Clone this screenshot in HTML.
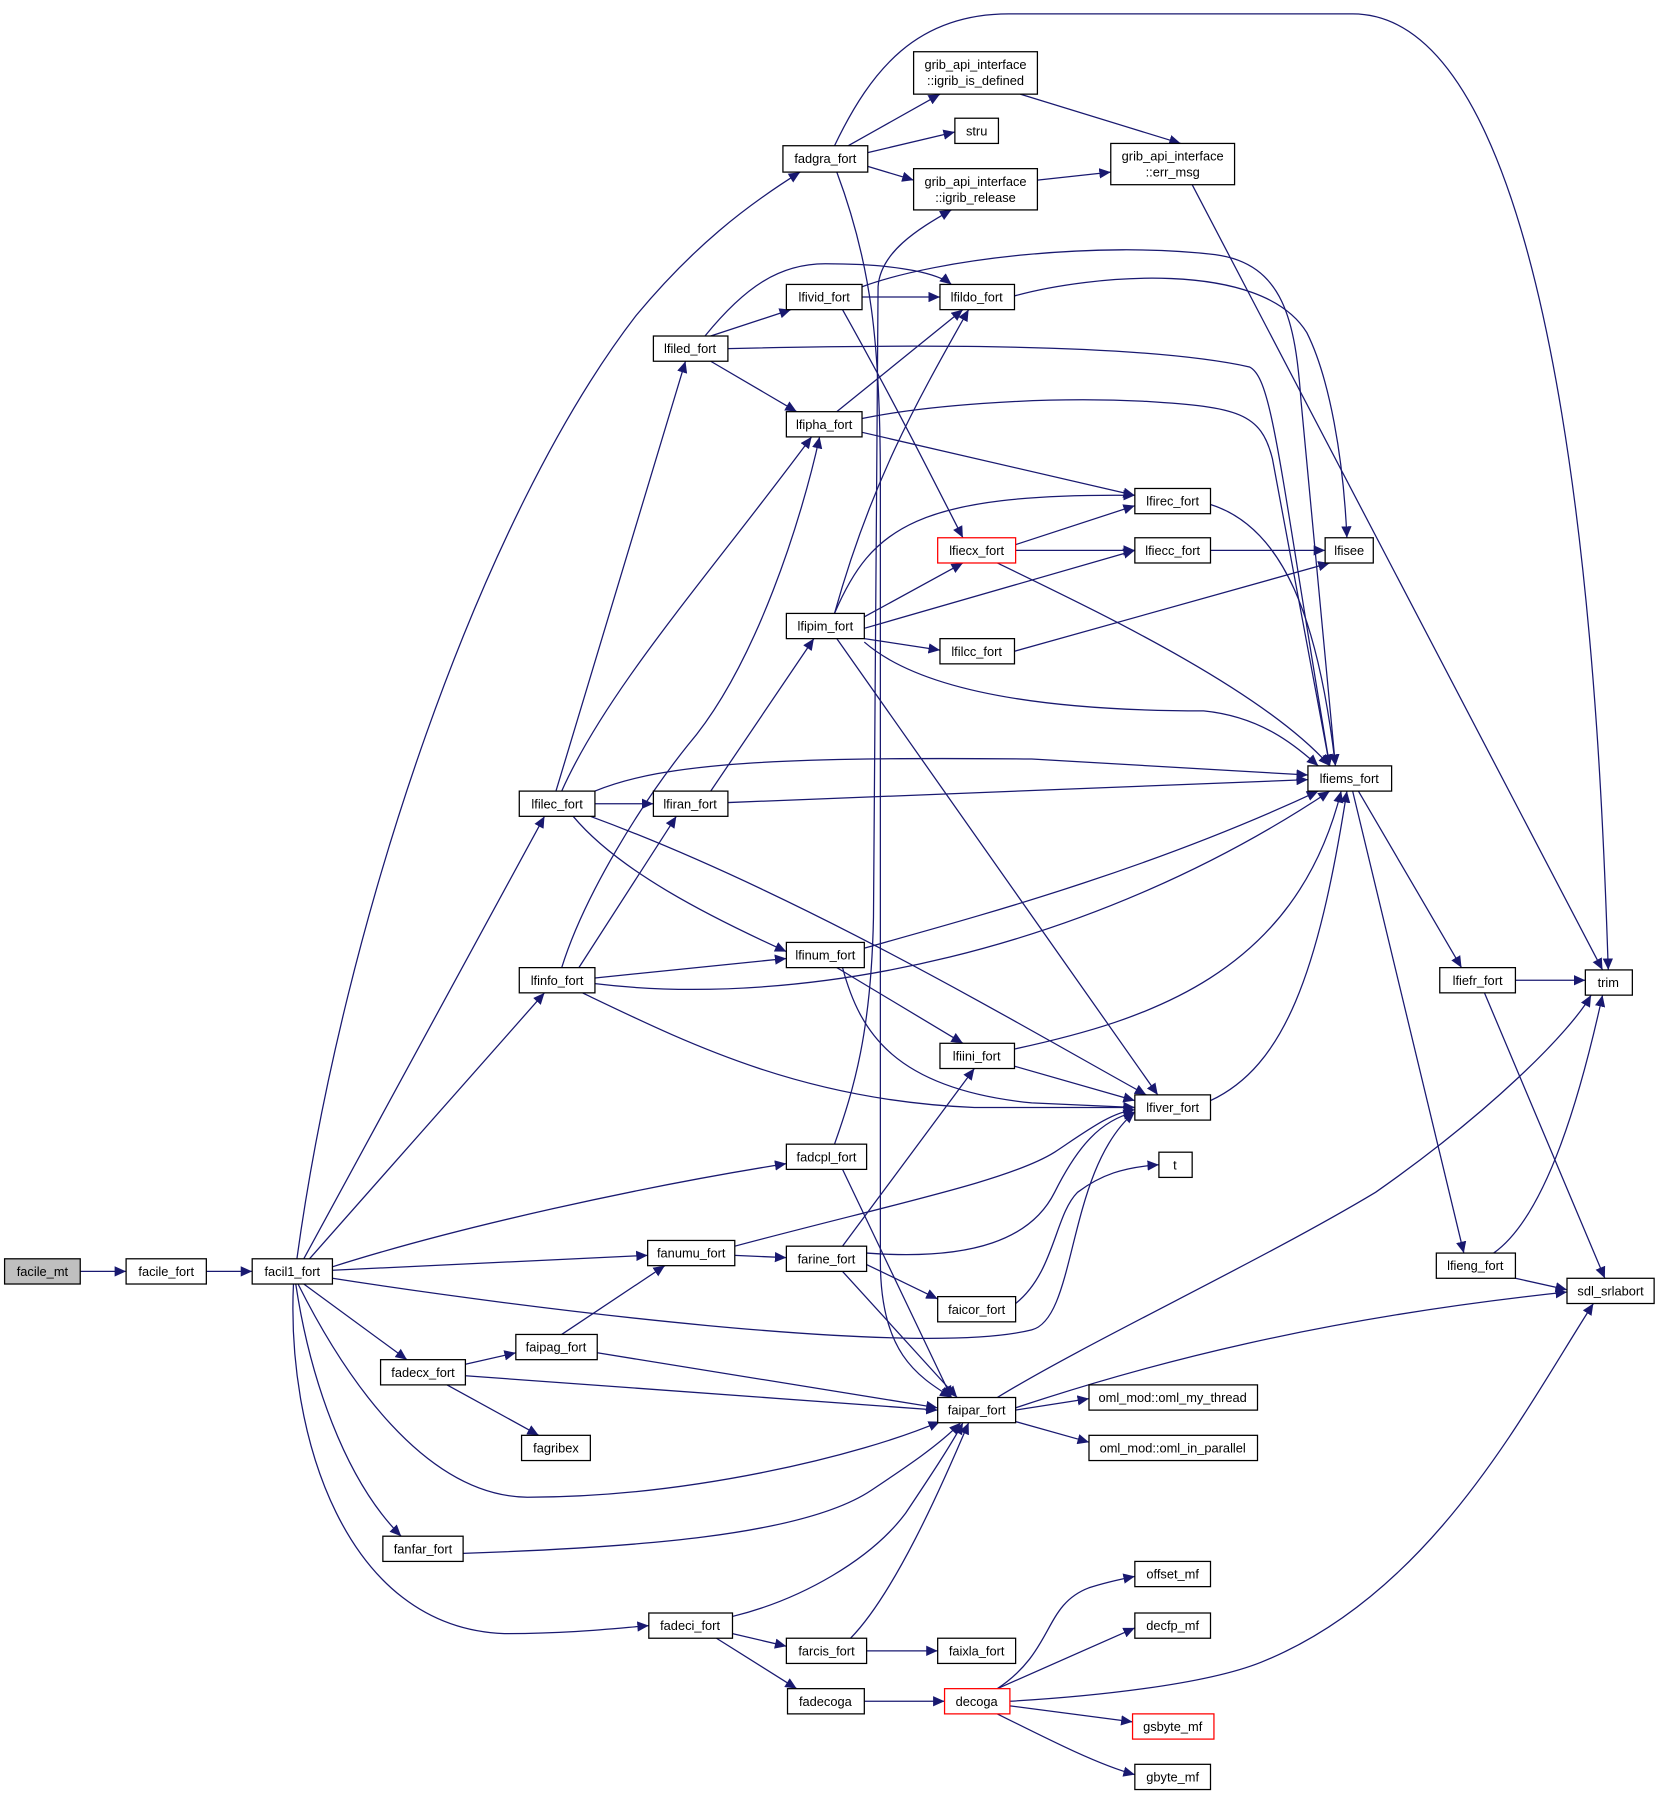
<!DOCTYPE html>
<html><head><meta charset="utf-8"><style>
html,body{margin:0;padding:0;background:#fff}
svg{display:block}
text{font-family:"Liberation Sans",Arial,sans-serif;font-size:11.2px;fill:#000}
.n rect{fill:#fff;stroke:#000;stroke-width:1.1}
.e path{fill:none;stroke:#191970;stroke-width:1.1}
</style></head><body>
<svg width="1661" height="1800" viewBox="0 0 1449 1570" xmlns="http://www.w3.org/2000/svg">
<defs><marker id="a" markerUnits="userSpaceOnUse" markerWidth="11" markerHeight="9" refX="10" refY="4.5" orient="auto"><path d="M0,0 L10,4.5 L0,9 z" fill="#191970"/></marker></defs>
<g class="e" marker-end="url(#a)">
<path d="M70,1109 L110,1109"/>
<path d="M180,1109 L220,1109"/>
<path d="M259,1098 C300,800 420,450 555,275 C605,215 650,180 698,150"/>
<path d="M265,1098 L475,712"/>
<path d="M270,1098 L475,866"/>
<path d="M290,1105 C400,1070 560,1035 686,1015"/>
<path d="M290,1108 L565,1095"/>
<path d="M290,1115 C450,1140 800,1185 900,1160 C940,1150 930,1020 990,970"/>
<path d="M265,1120 L355,1186"/>
<path d="M260,1120 C300,1200 370,1305 460,1306 C600,1306 750,1270 820,1240"/>
<path d="M258,1120 C270,1200 300,1290 350,1340"/>
<path d="M256,1120 C250,1250 300,1420 440,1425 C500,1425 540,1420 566,1418"/>
<path d="M740,127 L820,82"/>
<path d="M757,133 L833,115"/>
<path d="M757,145 L797,157"/>
<path d="M728,127 C760,60 800,12 880,12 L1180,12 C1380,12 1398,700 1403,846"/>
<path d="M730,150 C760,230 768,300 768,420 L768,1100 C768,1180 800,1200 830,1219"/>
<path d="M890,82 L1030,125"/>
<path d="M905,157 L969,150"/>
<path d="M1040,161 L1398,846"/>
<path d="M728,998 C745,950 760,900 762,800 L766,250 C768,220 800,200 830,183"/>
<path d="M735,1020 L830,1219"/>
<path d="M752,259 L820,259"/>
<path d="M735,270 C780,350 820,430 840,469"/>
<path d="M752,250 C820,225 960,210 1060,222 C1120,230 1130,280 1135,350 L1165,668"/>
<path d="M615,293 C650,250 680,230 720,230 C790,230 820,240 830,248"/>
<path d="M620,293 L690,270"/>
<path d="M620,315 L695,359"/>
<path d="M635,304 C800,300 1000,300 1090,320 C1110,330 1115,400 1160,668"/>
<path d="M885,258 C950,240 1100,225 1140,290 C1160,330 1172,400 1175,469"/>
<path d="M730,359 L840,270"/>
<path d="M752,377 L990,432"/>
<path d="M752,365 C800,355 900,345 1000,350 C1080,355 1100,360 1110,400 L1160,668"/>
<path d="M1056,440 C1120,460 1150,540 1165,668"/>
<path d="M886,475 L990,441"/>
<path d="M886,480 L990,480"/>
<path d="M870,491 C950,530 1100,600 1160,668"/>
<path d="M1056,480 L1156,480"/>
<path d="M728,535 C760,420 800,350 845,270"/>
<path d="M728,535 C760,460 800,430 990,432"/>
<path d="M754,538 L840,491"/>
<path d="M754,548 L990,480"/>
<path d="M754,557 L820,567"/>
<path d="M754,560 C800,600 900,620 1050,620 C1100,625 1130,650 1150,668"/>
<path d="M730,557 L1010,955"/>
<path d="M885,568 L1160,491"/>
<path d="M485,690 L598,315"/>
<path d="M490,690 C530,600 620,500 708,381"/>
<path d="M519,701 L570,701"/>
<path d="M519,690 C580,665 680,660 900,662 L1141,676"/>
<path d="M500,712 C540,760 620,800 686,830"/>
<path d="M515,712 C700,780 900,900 1000,955"/>
<path d="M620,690 L710,557"/>
<path d="M635,700 L1141,680"/>
<path d="M754,827 C850,800 1000,760 1150,690"/>
<path d="M730,844 L840,910"/>
<path d="M735,844 C750,900 780,950 900,962 L990,966"/>
<path d="M490,844 C510,780 560,700 600,650 C660,580 700,450 715,381"/>
<path d="M505,844 L590,712"/>
<path d="M519,853 L686,836"/>
<path d="M519,858 C700,880 950,830 1160,690"/>
<path d="M508,866 C600,910 700,960 850,966 L990,966"/>
<path d="M885,915 C1000,890 1130,850 1170,690"/>
<path d="M885,930 L990,960"/>
<path d="M1056,960 C1120,930 1150,850 1175,690"/>
<path d="M1185,690 L1275,844"/>
<path d="M1180,690 L1277,1093"/>
<path d="M1322,855 L1383,855"/>
<path d="M1295,866 L1400,1115"/>
<path d="M1303,1093 C1350,1060 1380,950 1398,868"/>
<path d="M1322,1115 L1367,1125"/>
<path d="M641,1087 C780,1050 880,1030 920,1005 C950,985 970,970 990,968"/>
<path d="M641,1095 L686,1097"/>
<path d="M735,1087 L850,932"/>
<path d="M756,1093 C850,1100 900,1080 920,1040 C940,1000 960,977 990,970"/>
<path d="M756,1103 L818,1133"/>
<path d="M735,1109 L835,1219"/>
<path d="M886,1137 C920,1110 920,1060 940,1040 C960,1025 980,1018 1011,1016"/>
<path d="M490,1164 L580,1104"/>
<path d="M521,1180 L818,1228"/>
<path d="M406,1190 L450,1180"/>
<path d="M406,1200 L818,1230"/>
<path d="M390,1208 L470,1252"/>
<path d="M404,1355 C550,1350 700,1340 760,1300 C790,1280 820,1260 838,1241"/>
<path d="M639,1410 C700,1395 760,1360 790,1320 C810,1290 830,1260 840,1241"/>
<path d="M639,1425 L686,1436"/>
<path d="M625,1429 L695,1473"/>
<path d="M742,1429 C780,1390 820,1300 845,1241"/>
<path d="M756,1440 L818,1440"/>
<path d="M754,1484 L824,1484"/>
<path d="M870,1473 C920,1440 910,1400 950,1385 C965,1380 980,1377 990,1375"/>
<path d="M870,1473 L990,1420"/>
<path d="M881,1488 L988,1502"/>
<path d="M870,1495 C920,1520 960,1540 990,1548"/>
<path d="M881,1484 C950,1480 1050,1470 1100,1450 C1250,1390 1330,1230 1390,1137"/>
<path d="M870,1219 C950,1170 1100,1100 1200,1040 C1300,970 1370,900 1388,868"/>
<path d="M886,1228 C1000,1190 1150,1150 1367,1127"/>
<path d="M886,1230 L950,1220"/>
<path d="M886,1240 L950,1258"/>
</g>
<g class="n">
<rect x="4" y="1098" width="66" height="22" style="fill:#bfbfbf"/><text x="37" y="1113" text-anchor="middle">facile_mt</text>
<rect x="110" y="1098" width="70" height="22"/><text x="145" y="1113" text-anchor="middle">facile_fort</text>
<rect x="220" y="1098" width="70" height="22"/><text x="255" y="1113" text-anchor="middle">facil1_fort</text>
<rect x="683" y="127" width="74" height="23"/><text x="720" y="142" text-anchor="middle">fadgra_fort</text>
<rect x="797" y="45" width="108" height="37"/><text x="851" y="60" text-anchor="middle">grib_api_interface</text><text x="851" y="74" text-anchor="middle">::igrib_is_defined</text>
<rect x="833" y="103" width="38" height="22"/><text x="852" y="118" text-anchor="middle">stru</text>
<rect x="797" y="147" width="108" height="36"/><text x="851" y="162" text-anchor="middle">grib_api_interface</text><text x="851" y="176" text-anchor="middle">::igrib_release</text>
<rect x="969" y="125" width="108" height="36"/><text x="1023" y="140" text-anchor="middle">grib_api_interface</text><text x="1023" y="154" text-anchor="middle">::err_msg</text>
<rect x="686" y="248" width="66" height="22"/><text x="719" y="263" text-anchor="middle">lfivid_fort</text>
<rect x="820" y="248" width="65" height="22"/><text x="852" y="263" text-anchor="middle">lfildo_fort</text>
<rect x="570" y="293" width="65" height="22"/><text x="602" y="308" text-anchor="middle">lfiled_fort</text>
<rect x="686" y="359" width="66" height="22"/><text x="719" y="374" text-anchor="middle">lfipha_fort</text>
<rect x="990" y="426" width="66" height="22"/><text x="1023" y="441" text-anchor="middle">lfirec_fort</text>
<rect x="818" y="469" width="68" height="22" style="stroke:#ff0000"/><text x="852" y="484" text-anchor="middle">lfiecx_fort</text>
<rect x="990" y="469" width="66" height="22"/><text x="1023" y="484" text-anchor="middle">lfiecc_fort</text>
<rect x="1156" y="469" width="42" height="22"/><text x="1177" y="484" text-anchor="middle">lfisee</text>
<rect x="686" y="535" width="68" height="22"/><text x="720" y="550" text-anchor="middle">lfipim_fort</text>
<rect x="820" y="557" width="65" height="22"/><text x="852" y="572" text-anchor="middle">lfilcc_fort</text>
<rect x="1141" y="668" width="73" height="22"/><text x="1177" y="683" text-anchor="middle">lfiems_fort</text>
<rect x="453" y="690" width="66" height="22"/><text x="486" y="705" text-anchor="middle">lfilec_fort</text>
<rect x="570" y="690" width="65" height="22"/><text x="602" y="705" text-anchor="middle">lfiran_fort</text>
<rect x="686" y="822" width="68" height="22"/><text x="720" y="837" text-anchor="middle">lfinum_fort</text>
<rect x="453" y="844" width="66" height="22"/><text x="486" y="859" text-anchor="middle">lfinfo_fort</text>
<rect x="1256" y="844" width="66" height="22"/><text x="1289" y="859" text-anchor="middle">lfiefr_fort</text>
<rect x="1383" y="846" width="41" height="22"/><text x="1403" y="861" text-anchor="middle">trim</text>
<rect x="820" y="910" width="65" height="22"/><text x="852" y="925" text-anchor="middle">lfiini_fort</text>
<rect x="990" y="955" width="66" height="22"/><text x="1023" y="970" text-anchor="middle">lfiver_fort</text>
<rect x="686" y="998" width="70" height="22"/><text x="721" y="1013" text-anchor="middle">fadcpl_fort</text>
<rect x="1011" y="1005" width="29" height="22"/><text x="1025" y="1020" text-anchor="middle">t</text>
<rect x="565" y="1082" width="76" height="22"/><text x="603" y="1097" text-anchor="middle">fanumu_fort</text>
<rect x="686" y="1087" width="70" height="22"/><text x="721" y="1102" text-anchor="middle">farine_fort</text>
<rect x="1253" y="1093" width="69" height="22"/><text x="1287" y="1108" text-anchor="middle">lfieng_fort</text>
<rect x="1367" y="1115" width="76" height="22"/><text x="1405" y="1130" text-anchor="middle">sdl_srlabort</text>
<rect x="818" y="1131" width="68" height="22"/><text x="852" y="1146" text-anchor="middle">faicor_fort</text>
<rect x="450" y="1164" width="71" height="22"/><text x="485" y="1179" text-anchor="middle">faipag_fort</text>
<rect x="332" y="1186" width="74" height="22"/><text x="369" y="1201" text-anchor="middle">fadecx_fort</text>
<rect x="818" y="1219" width="68" height="22"/><text x="852" y="1234" text-anchor="middle">faipar_fort</text>
<rect x="950" y="1208" width="147" height="22"/><text x="1023" y="1223" text-anchor="middle">oml_mod::oml_my_thread</text>
<rect x="950" y="1252" width="147" height="22"/><text x="1023" y="1267" text-anchor="middle">oml_mod::oml_in_parallel</text>
<rect x="455" y="1252" width="60" height="22"/><text x="485" y="1267" text-anchor="middle">fagribex</text>
<rect x="334" y="1340" width="70" height="22"/><text x="369" y="1355" text-anchor="middle">fanfar_fort</text>
<rect x="990" y="1362" width="66" height="22"/><text x="1023" y="1377" text-anchor="middle">offset_mf</text>
<rect x="566" y="1407" width="73" height="22"/><text x="602" y="1422" text-anchor="middle">fadeci_fort</text>
<rect x="990" y="1407" width="66" height="22"/><text x="1023" y="1422" text-anchor="middle">decfp_mf</text>
<rect x="686" y="1429" width="70" height="22"/><text x="721" y="1444" text-anchor="middle">farcis_fort</text>
<rect x="818" y="1429" width="68" height="22"/><text x="852" y="1444" text-anchor="middle">faixla_fort</text>
<rect x="687" y="1473" width="67" height="22"/><text x="720" y="1488" text-anchor="middle">fadecoga</text>
<rect x="824" y="1473" width="57" height="22" style="stroke:#ff0000"/><text x="852" y="1488" text-anchor="middle">decoga</text>
<rect x="988" y="1495" width="71" height="22" style="stroke:#ff0000"/><text x="1023" y="1510" text-anchor="middle">gsbyte_mf</text>
<rect x="990" y="1539" width="66" height="22"/><text x="1023" y="1554" text-anchor="middle">gbyte_mf</text>
</g>
</svg>
</body></html>
